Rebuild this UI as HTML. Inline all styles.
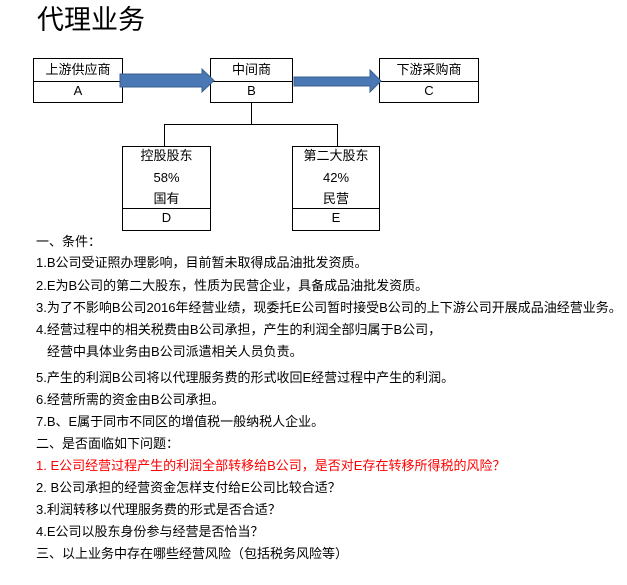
<!DOCTYPE html>
<html><head><meta charset="utf-8"><style>
body{margin:0;width:627px;height:585px;background:#fff;position:relative;overflow:hidden;font-family:"Liberation Sans","Noto Sans CJK SC",sans-serif;color:#000}
.t{position:absolute;left:36px;font-size:13px;line-height:16px;white-space:nowrap}
.box{position:absolute;border:1px solid #000;box-sizing:border-box;font-size:13px;text-align:center}
.row{position:absolute;left:0;right:0;text-align:center;line-height:16px}
.h{position:absolute;background:#000}
</style></head><body>
<div style="position:absolute;left:37px;top:3px;font-size:27px;line-height:34px">代理业务</div>

<div class="box" style="left:33px;top:58px;width:90px;height:45px"><div class="row" style="top:3px">上游供应商</div><div class="h" style="left:0;right:0;top:22px;height:1px"></div><div class="row" style="top:24px">A</div></div>
<div class="box" style="left:210px;top:58px;width:83px;height:45px"><div class="row" style="top:3px">中间商</div><div class="h" style="left:0;right:0;top:22px;height:1px"></div><div class="row" style="top:24px">B</div></div>
<div class="box" style="left:379px;top:58px;width:100px;height:45px"><div class="row" style="top:3px">下游采购商</div><div class="h" style="left:0;right:0;top:22px;height:1px"></div><div class="row" style="top:24px">C</div></div>

<svg style="position:absolute;left:0;top:0" width="627" height="240">
<polygon points="120,74 202,74 202,69 214,80.5 202,92 202,87 120,87" fill="#4a78b4" stroke="#3a5f8f" stroke-width="1"/>
<polygon points="294,77 370,77 370,70 381,81 370,92 370,86 294,86" fill="#4a78b4" stroke="#3a5f8f" stroke-width="1"/>
<path d="M251.5 103V124.5M164.5 146V124.5H337.5V146" fill="none" stroke="#000" stroke-width="1"/>
</svg>

<div class="box" style="left:122px;top:146px;width:89px;height:85px"><div class="row" style="top:1px">控股股东</div><div class="row" style="top:23px">58%</div><div class="row" style="top:44px">国有</div><div class="h" style="left:0;right:0;top:61px;height:1px"></div><div class="row" style="top:63px">D</div></div>
<div class="box" style="left:292px;top:146px;width:88px;height:85px"><div class="row" style="top:1px">第二大股东</div><div class="row" style="top:23px">42%</div><div class="row" style="top:44px">民营</div><div class="h" style="left:0;right:0;top:61px;height:1px"></div><div class="row" style="top:63px">E</div></div>

<div class="t" style="top:234px">一、条件：</div>
<div class="t" style="top:255px">1.B公司受证照办理影响，目前暂未取得成品油批发资质。</div>
<div class="t" style="top:278px">2.E为B公司的第二大股东，性质为民营企业，具备成品油批发资质。</div>
<div class="t" style="top:300px">3.为了不影响B公司2016年经营业绩，现委托E公司暂时接受B公司的上下游公司开展成品油经营业务。</div>
<div class="t" style="top:322px">4.经营过程中的相关税费由B公司承担，产生的利润全部归属于B公司，</div>
<div class="t" style="top:344px;left:47px">经营中具体业务由B公司派遣相关人员负责。</div>
<div class="t" style="top:370px">5.产生的利润B公司将以代理服务费的形式收回E经营过程中产生的利润。</div>
<div class="t" style="top:392px">6.经营所需的资金由B公司承担。</div>
<div class="t" style="top:414px">7.B、E属于同市不同区的增值税一般纳税人企业。</div>
<div class="t" style="top:436px">二、是否面临如下问题：</div>
<div class="t" style="top:458px;color:#ff0000">1. E公司经营过程产生的利润全部转移给B公司，是否对E存在转移所得税的风险？</div>
<div class="t" style="top:480px">2. B公司承担的经营资金怎样支付给E公司比较合适？</div>
<div class="t" style="top:502px">3.利润转移以代理服务费的形式是否合适？</div>
<div class="t" style="top:524px">4.E公司以股东身份参与经营是否恰当？</div>
<div class="t" style="top:546px">三、以上业务中存在哪些经营风险（包括税务风险等）</div>
</body></html>
